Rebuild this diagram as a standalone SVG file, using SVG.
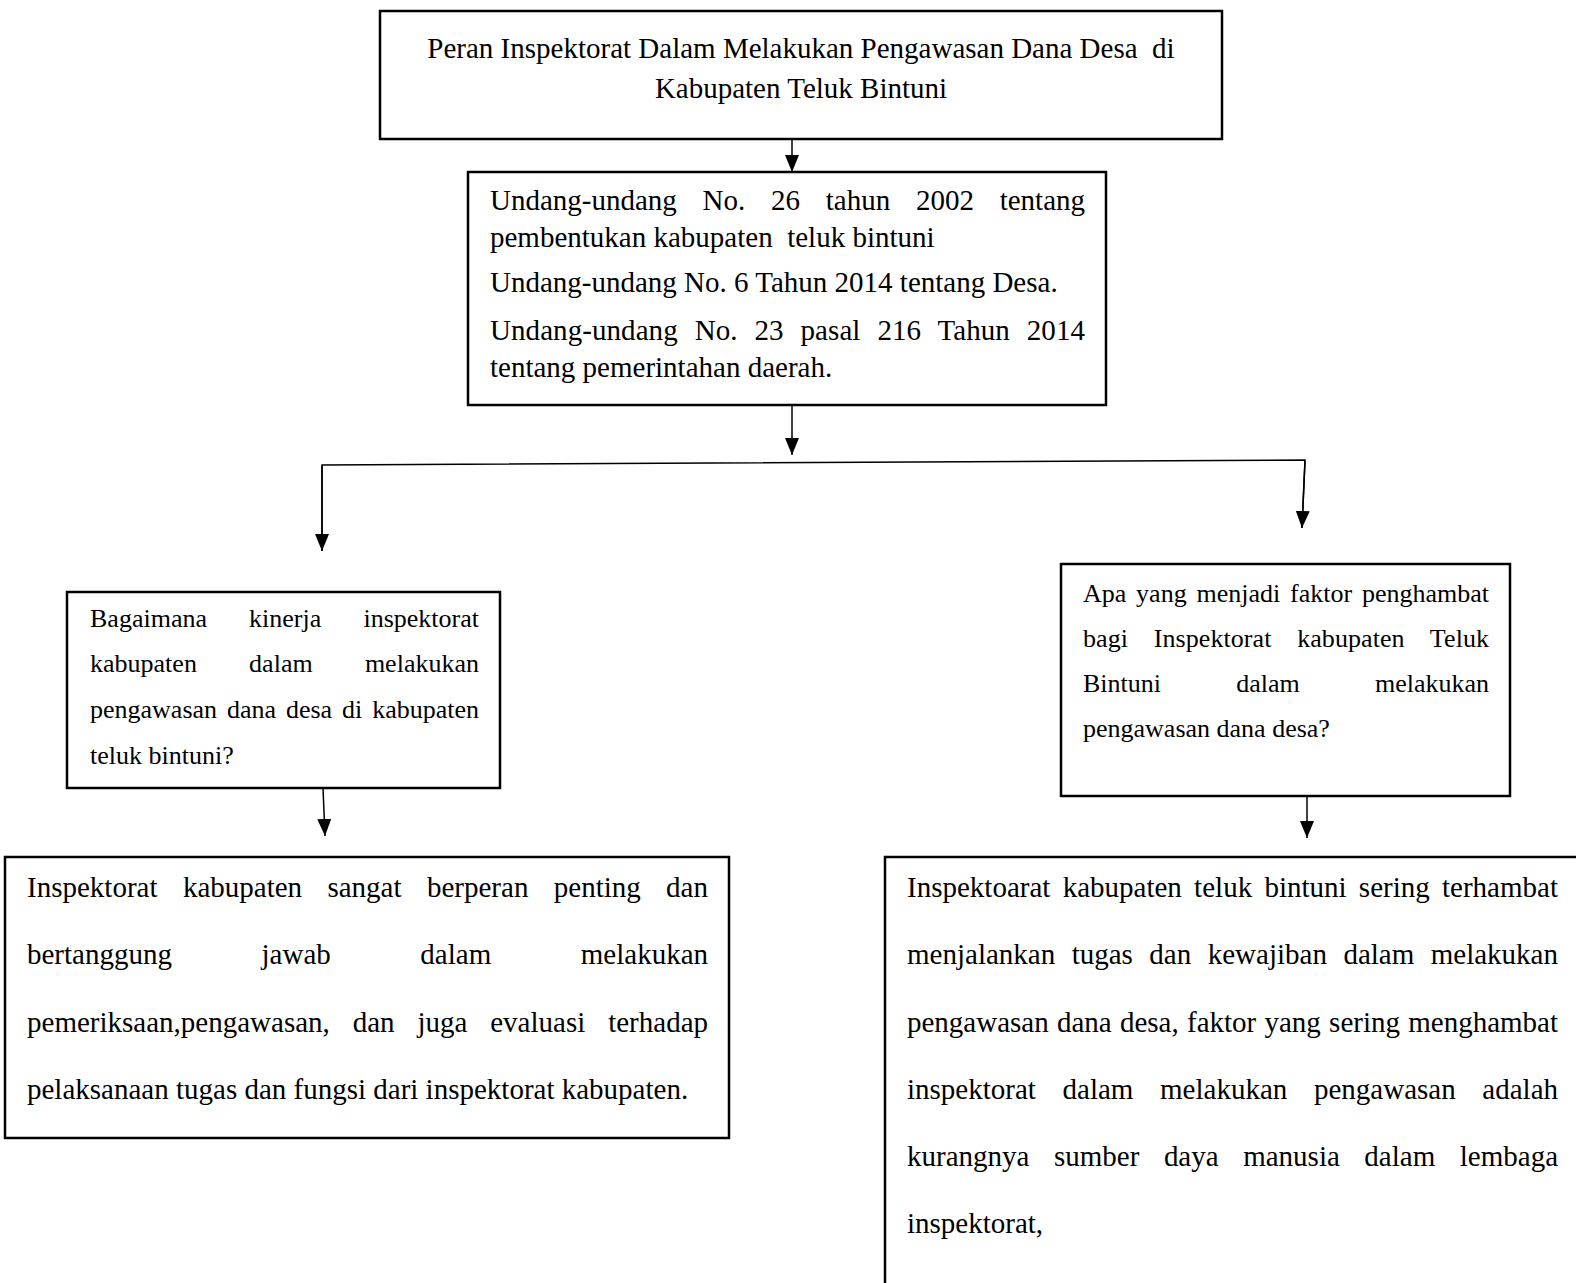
<svg xmlns="http://www.w3.org/2000/svg" width="1576" height="1283" viewBox="0 0 1576 1283">
<defs>
<style>
.box{fill:#fff;stroke:#000;stroke-width:2.5}
.t{font-family:"Liberation Serif","Times New Roman",serif;fill:#000}
.s29{font-size:29px}
.s26{font-size:26px}
.c{stroke:#000;stroke-width:1.5;fill:none}
</style>
<marker id="ah" markerUnits="userSpaceOnUse" markerWidth="18" markerHeight="14" refX="17" refY="7" orient="auto">
<path d="M0,0 L17,7 L0,14 z" fill="#000"/>
</marker>
</defs>
<rect width="1576" height="1283" fill="#fff"/>

<g id="connectors">
<line class="c" x1="792" y1="139" x2="792" y2="172" marker-end="url(#ah)"/>
<line class="c" x1="792" y1="405" x2="792" y2="455" marker-end="url(#ah)"/>
<polyline class="c" points="322,551 322,465 1305,460 1302,528"/>
<line class="c" x1="322" y1="466" x2="322" y2="551" marker-end="url(#ah)"/>
<line class="c" x1="1305" y1="461" x2="1302" y2="528" marker-end="url(#ah)"/>
<line class="c" x1="323" y1="788" x2="325" y2="836" marker-end="url(#ah)"/>
<line class="c" x1="1307" y1="796" x2="1307" y2="838" marker-end="url(#ah)"/>
</g>

<g id="node-title">
<rect class="box" x="380" y="11" width="842" height="128"/>
<text class="t s29" x="801" y="58" text-anchor="middle" xml:space="preserve">Peran Inspektorat Dalam Melakukan Pengawasan Dana Desa  di</text>
<text class="t s29" x="801" y="98" text-anchor="middle">Kabupaten Teluk Bintuni</text>
</g>

<g id="node-laws">
<rect class="box" x="468" y="172" width="638" height="233"/>
<text class="t s29" x="490" y="210" word-spacing="18.5" textLength="595" lengthAdjust="spacing">Undang-undang No. 26 tahun 2002 tentang</text>
<text class="t s29" x="490" y="247" xml:space="preserve">pembentukan kabupaten  teluk bintuni</text>
<text class="t s29" x="490" y="292">Undang-undang No. 6 Tahun 2014 tentang Desa.</text>
<text class="t s29" x="490" y="340" word-spacing="9.6" textLength="595" lengthAdjust="spacing">Undang-undang No. 23 pasal 216 Tahun 2014</text>
<text class="t s29" x="490" y="377">tentang pemerintahan daerah.</text>
</g>

<g id="node-q1">
<rect class="box" x="67" y="592" width="433" height="196"/>
<text class="t s26" x="90" y="627" word-spacing="35.6" textLength="389" lengthAdjust="spacing">Bagaimana kinerja inspektorat</text>
<text class="t s26" x="90" y="672" word-spacing="45.7" textLength="389" lengthAdjust="spacing">kabupaten dalam melakukan</text>
<text class="t s26" x="90" y="718" word-spacing="3.4" textLength="389" lengthAdjust="spacing">pengawasan dana desa di kabupaten</text>
<text class="t s26" x="90" y="764">teluk bintuni?</text>
</g>

<g id="node-q2">
<rect class="box" x="1061" y="564" width="449" height="232"/>
<text class="t s26" x="1083" y="602" word-spacing="3.3" textLength="406" lengthAdjust="spacing">Apa yang menjadi faktor penghambat</text>
<text class="t s26" x="1083" y="647" word-spacing="19.1" textLength="406" lengthAdjust="spacing">bagi Inspektorat kabupaten Teluk</text>
<text class="t s26" x="1083" y="692" word-spacing="68.7" textLength="406" lengthAdjust="spacing">Bintuni dalam melakukan</text>
<text class="t s26" x="1083" y="737">pengawasan dana desa?</text>
</g>

<g id="node-a1">
<rect class="box" x="5" y="857" width="724" height="281"/>
<text class="t s29" x="27" y="897" word-spacing="18.1" textLength="681" lengthAdjust="spacing">Inspektorat kabupaten sangat berperan penting dan</text>
<text class="t s29" x="27" y="964" word-spacing="82.3" textLength="681" lengthAdjust="spacing">bertanggung jawab dalam melakukan</text>
<text class="t s29" x="27" y="1032" word-spacing="15.6" textLength="681" lengthAdjust="spacing">pemeriksaan,pengawasan, dan juga evaluasi terhadap</text>
<text class="t s29" x="27" y="1099">pelaksanaan tugas dan fungsi dari inspektorat kabupaten.</text>
</g>

<g id="node-a2">
<rect class="box" x="885" y="857" width="720" height="460"/>
<text class="t s29" x="907" y="897" word-spacing="5.0" textLength="651" lengthAdjust="spacing">Inspektoarat kabupaten teluk bintuni sering terhambat</text>
<text class="t s29" x="907" y="964" word-spacing="9.2" textLength="651" lengthAdjust="spacing">menjalankan tugas dan kewajiban dalam melakukan</text>
<text class="t s29" x="907" y="1032" word-spacing="1.0" textLength="651" lengthAdjust="spacing">pengawasan dana desa, faktor yang sering menghambat</text>
<text class="t s29" x="907" y="1099" word-spacing="19.4" textLength="651" lengthAdjust="spacing">inspektorat dalam melakukan pengawasan adalah</text>
<text class="t s29" x="907" y="1166" word-spacing="17.3" textLength="651" lengthAdjust="spacing">kurangnya sumber daya manusia dalam lembaga</text>
<text class="t s29" x="907" y="1233">inspektorat,</text>
</g>
</svg>
